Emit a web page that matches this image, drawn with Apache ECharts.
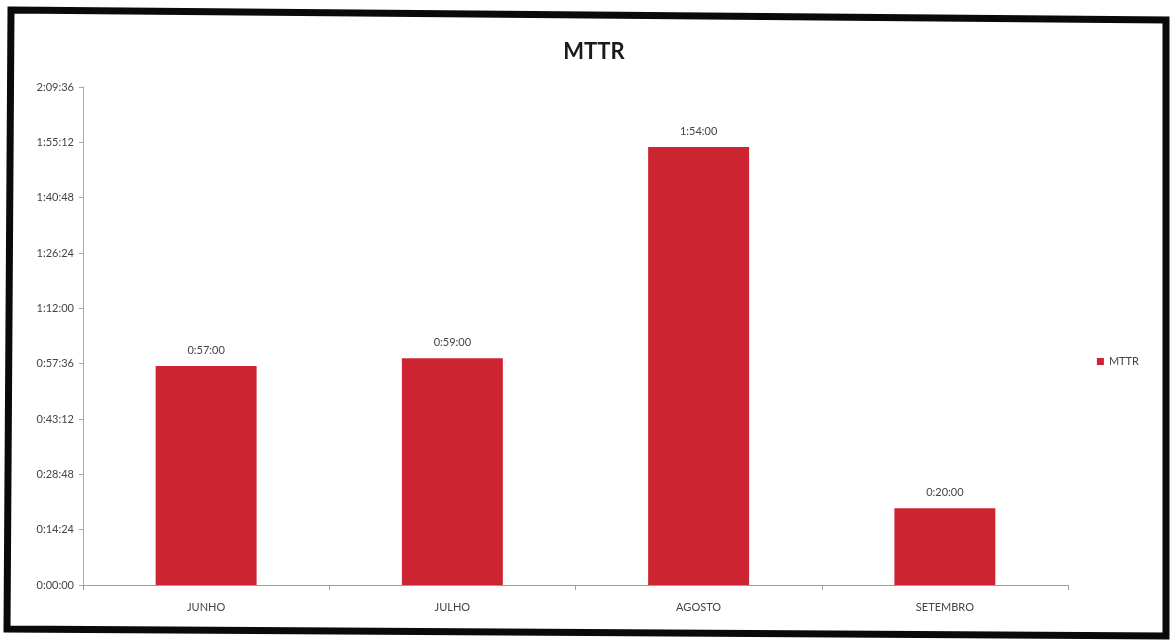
<!DOCTYPE html>
<html>
<head>
<meta charset="utf-8">
<script src="https://cdn.jsdelivr.net/npm/echarts@6/dist/echarts.min.js"></script>
<style>
  html, body { margin: 0; padding: 0; background: #ffffff; }
  #chart { width: 1170px; height: 643px; }
</style>
</head>
<body>
<div id="chart"></div>
<script>
// Monthly mean time to repair, in seconds
const months = ['JUNHO', 'JULHO', 'AGOSTO', 'SETEMBRO'];
const mttrSeconds = [3420, 3540, 6840, 1200];   // 0:57:00, 0:59:00, 1:54:00, 0:20:00
const seriesName = 'MTTR';

// Axis runs from 0:00:00 to 2:09:36 in steps of 0:14:24
const axisMin = 0;
const axisMax = 7776;
const axisStep = 864;

function hms(sec) {
  sec = Math.round(sec);
  const h = Math.floor(sec / 3600);
  const m = Math.floor((sec % 3600) / 60);
  const s = sec % 60;
  return h + ':' + String(m).padStart(2, '0') + ':' + String(s).padStart(2, '0');
}

const font = 'Lato, "Open Sans", sans-serif';
const textColor = '#444444';

const chart = echarts.init(document.getElementById('chart'), null, { renderer: 'canvas' });
chart.setOption({
  backgroundColor: '#ffffff',
  animation: false,
  title: {
    text: 'MTTR',
    left: 589,
    top: 36,
    textAlign: 'center',
    textStyle: { fontFamily: font, fontSize: 22, fontWeight: 'bold', color: '#1a1a1a' }
  },
  legend: {
    data: [seriesName],
    right: 26,
    top: 351,
    orient: 'vertical',
    icon: 'rect',
    itemWidth: 7,
    itemHeight: 7,
    itemGap: 4,
    textStyle: { fontFamily: font, fontSize: 11, color: textColor }
  },
  grid: { left: 83, right: 102, top: 87, bottom: 58, containLabel: false },
  xAxis: {
    type: 'category',
    data: months,
    axisLine: { lineStyle: { color: '#9a9aa8', width: 1 } },
    axisTick: { show: true, length: 5, lineStyle: { color: '#9a9aa8' } },
    axisLabel: { margin: 17, fontFamily: font, fontSize: 11, color: textColor }
  },
  yAxis: {
    type: 'value',
    min: axisMin,
    max: axisMax,
    interval: axisStep,
    axisLine: { show: true, lineStyle: { color: '#a8a8b4', width: 1 } },
    axisTick: { show: true, length: 4, lineStyle: { color: '#a8a8b4' } },
    splitLine: { show: false },
    axisLabel: {
      margin: 9,
      fontFamily: font,
      fontSize: 11,
      color: textColor,
      formatter: v => hms(v)
    }
  },
  series: [{
    name: seriesName,
    type: 'bar',
    data: mttrSeconds,
    barWidth: '41%',
    itemStyle: { color: '#cd2431' },
    label: {
      show: true,
      position: 'top',
      distance: 10,
      fontFamily: font,
      fontSize: 11,
      color: textColor,
      formatter: p => hms(p.value)
    }
  }],
  graphic: [{
    type: 'polygon',
    shape: { points: [[11, 10], [1166, 20], [1166, 636], [7, 629]] },
    style: { fill: 'none', stroke: '#0a0a0a', lineWidth: 7, lineJoin: 'miter' },
    silent: true,
    z: 100
  }]
});
</script>
</body>
</html>
